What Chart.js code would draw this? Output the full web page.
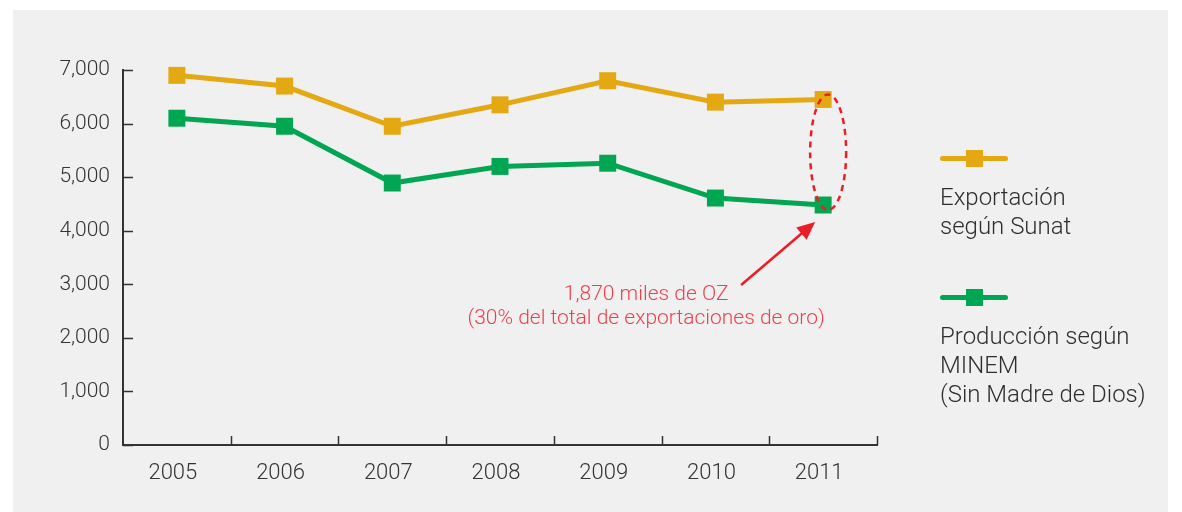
<!DOCTYPE html>
<html>
<head>
<meta charset="utf-8">
<script src="https://cdn.jsdelivr.net/npm/chart.js@4"></script>
<style>
  body { margin: 0; background: #fff; font-family: Roboto, sans-serif; }
  #panel { position: absolute; left: 13px; top: 10px; width: 1155px; height: 502px; background: #f0f0f0; }
  #chartBox { position: absolute; left: 0; top: 0; width: 1155px; height: 502px; }
  .legend-item { position: absolute; left: 927px; }
  .legend-line { position: relative; width: 68px; height: 5px; border-radius: 3px; }
  .legend-mark { position: absolute; left: 26px; top: -6px; width: 17px; height: 17px; }
  .legend-text { margin-top: 22px; font-size: 24px; font-weight: 300; color: #2e2e2e; line-height: 29px; white-space: nowrap; }
</style>
</head>
<body>
<div id="panel">
  <div id="chartBox"><canvas id="goldChart"></canvas></div>
  <div class="legend-item" style="top:146px">
    <div class="legend-line" style="background:#E3A812"><div class="legend-mark" style="background:#E3A812"></div></div>
    <div class="legend-text">Exportación<br>según Sunat</div>
  </div>
  <div class="legend-item" style="top:285px">
    <div class="legend-line" style="background:#00A651"><div class="legend-mark" style="background:#00A651"></div></div>
    <div class="legend-text">Producción según<br>MINEM<br>(Sin Madre de Dios)</div>
  </div>
</div>
<script>
const years = ["2005", "2006", "2007", "2008", "2009", "2010", "2011"];
const exportSunat = [6900, 6700, 5950, 6350, 6800, 6400, 6450];
const produccionMinem = [6100, 5950, 4890, 5200, 5260, 4610, 4480];
const yTicks = [0, 1000, 2000, 3000, 4000, 5000, 6000, 7000];
const noteLines = ["1,870 miles de OZ", "(30% del total de exportaciones de oro)"];

const goldColor = "#E3A812";
const greenColor = "#00A651";
const redColor = "#EE1C25";
const noteColor = "#EF3F4C";
const axisColor = "#333333";

// inward tick marks + annotation (ellipse, arrow, note)
const extrasPlugin = {
  id: "extras",
  afterDraw(chart) {
    const ctx = chart.ctx;
    const x = chart.scales.x;
    const y = chart.scales.y;
    const area = chart.chartArea;
    ctx.save();
    ctx.strokeStyle = axisColor;
    ctx.lineWidth = 1.5;
    yTicks.forEach((v) => {
      const py = Math.round(y.getPixelForValue(v)) + 0.5;
      ctx.beginPath();
      ctx.moveTo(area.left, py);
      ctx.lineTo(area.left + 10, py);
      ctx.stroke();
    });
    for (let i = 0; i < years.length; i++) {
      const px = Math.round((x.getPixelForValue(i) + x.getPixelForValue(i + 1)) / 2) + 0.5;
      ctx.beginPath();
      ctx.moveTo(px, area.bottom);
      ctx.lineTo(px, area.bottom - 9);
      ctx.stroke();
    }

    const last = years.length - 1;
    const px = x.getPixelForValue(last);
    const yTop = y.getPixelForValue(exportSunat[last]);
    const yBot = y.getPixelForValue(produccionMinem[last]);
    ctx.strokeStyle = redColor;
    ctx.lineWidth = 2.5;
    ctx.setLineDash([6, 5]);
    ctx.beginPath();
    ctx.ellipse(px + 5, (yTop + yBot) / 2, 18, (yBot - yTop) / 2 + 5, 0, 0, Math.PI * 2);
    ctx.stroke();
    ctx.setLineDash([]);

    // arrow
    const tipX = px - 8, tipY = yBot + 17;
    const tailX = px - 82, tailY = yBot + 80;
    const ang = Math.atan2(tipY - tailY, tipX - tailX);
    ctx.lineWidth = 2.5;
    ctx.beginPath();
    ctx.moveTo(tailX, tailY);
    ctx.lineTo(tipX - 12 * Math.cos(ang), tipY - 12 * Math.sin(ang));
    ctx.stroke();
    ctx.fillStyle = redColor;
    ctx.beginPath();
    ctx.moveTo(tipX, tipY);
    ctx.lineTo(tipX - 18 * Math.cos(ang) + 8 * Math.sin(ang), tipY - 18 * Math.sin(ang) - 8 * Math.cos(ang));
    ctx.lineTo(tipX - 18 * Math.cos(ang) - 8 * Math.sin(ang), tipY - 18 * Math.sin(ang) + 8 * Math.cos(ang));
    ctx.closePath();
    ctx.fill();

    ctx.fillStyle = noteColor;
    ctx.font = "300 21px Roboto";
    ctx.textAlign = "center";
    ctx.textBaseline = "middle";
    ctx.fillText(noteLines[0], px - 177, yBot + 90);
    ctx.fillText(noteLines[1], px - 177, yBot + 114);
    ctx.restore();
  },
};

const lineDataset = (label, data, color) => ({
  label: label,
  data: data,
  borderColor: color,
  backgroundColor: color,
  borderWidth: 5,
  pointStyle: "rect",
  pointRadius: 12,
  pointHoverRadius: 12,
  pointBorderWidth: 0,
  tension: 0,
  clip: false,
});

new Chart(document.getElementById("goldChart"), {
  type: "line",
  data: {
    labels: years,
    datasets: [
      lineDataset("Exportación según Sunat", exportSunat, goldColor),
      lineDataset("Producción según MINEM (Sin Madre de Dios)", produccionMinem, greenColor),
    ],
  },
  options: {
    responsive: true,
    maintainAspectRatio: false,
    animation: false,
    layout: { padding: { top: 60, right: 291, left: 0, bottom: 0 } },
    plugins: {
      legend: { display: false },
      tooltip: { enabled: false },
    },
    scales: {
      x: {
        offset: true,
        grid: { display: false },
        border: { display: true, color: axisColor, width: 2 },
        ticks: {
          color: axisColor,
          font: { family: "Roboto", size: 22, weight: 300 },
          padding: 7,
          labelOffset: -4,
          maxRotation: 0,
        },
        afterFit: (s) => { s.height = 67; },
      },
      y: {
        min: 0,
        max: 7000,
        grid: { display: false },
        border: { display: true, color: axisColor, width: 2 },
        ticks: {
          stepSize: 1000,
          color: axisColor,
          font: { family: "Roboto", size: 21, weight: 300 },
          padding: 5,
          callback: (v) => v.toLocaleString("en-US"),
        },
        afterFit: (s) => { s.width = 110; },
      },
    },
  },
  plugins: [extrasPlugin],
});
</script>
</body>
</html>
